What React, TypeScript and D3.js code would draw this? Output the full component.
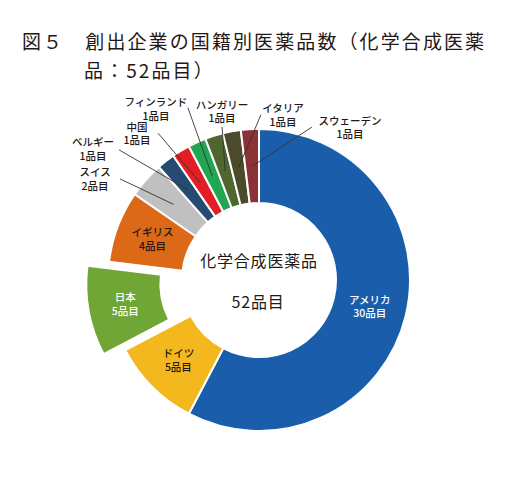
import * as d3 from "d3";
import { useRef, useEffect } from "react";

// 国名・品目数・色
const countries = ["アメリカ", "ドイツ", "日本", "イギリス", "スイス", "ベルギー", "中国", "フィンランド", "ハンガリー", "イタリア", "スウェーデン"];
const counts = [30, 5, 5, 4, 2, 1, 1, 1, 1, 1, 1];
const colors = ["#1a5eab", "#f3b81e", "#6fa636", "#dc6917", "#c0c0c0", "#264b73", "#e31e25", "#21a651", "#4f6630", "#4b4a2a", "#8b3236"];
const labelInk = ["#fff", "#231815", "#fff", "#231815", "#231815", "#231815", "#231815", "#231815", "#231815", "#231815", "#231815"];

const titleLines = ["図５　創出企業の国籍別医薬品数（化学合成医薬", "品：52品目）"];
const centerLines = ["化学合成医薬品", "52品目"];
const unit = "品目";

// 外側ラベルの配置（角度, 半径, 引出線の始点オフセット）
const outsideLayout: Record<string, { angle: number; radius: number; lead: [number, number] }> = {
  "スイス": { angle: 301.4, radius: 192, lead: [25, -1] },
  "ベルギー": { angle: 308.1, radius: 211, lead: [26, 0] },
  "中国": { angle: 320.1, radius: 190, lead: [21, -1] },
  "フィンランド": { angle: 328.8, radius: 199, lead: [32, -2] },
  "ハンガリー": { angle: 347.6, radius: 172, lead: [0, 15] },
  "イタリア": { angle: 8.3, radius: 166, lead: [-22, -1] },
  "スウェーデン": { angle: 30.9, radius: 177, lead: [-38, -1] },
};
const exploded = "日本";

type Slice = { name: string; value: number; color: string; ink: string };

export default function App() {
  const svgRef = useRef<SVGSVGElement | null>(null);

  useEffect(() => {
    if (!svgRef.current) return;
    const width = 516, height = 480;
    const cx = 259, cy = 280;
    const outer = 151, inner = 77, explodeBy = 22;
    const font = "'Noto Sans CJK JP', 'Noto Sans', sans-serif";

    const svg = d3.select(svgRef.current);
    svg.selectAll("*").remove();
    svg.attr("width", width).attr("height", height).attr("viewBox", `0 0 ${width} ${height}`);

    svg.append("rect").attr("width", width).attr("height", height).attr("fill", "#fff");

    // タイトル
    svg.append("text").attr("x", 22).attr("y", 49)
      .attr("font-family", font).attr("font-size", 19).attr("letter-spacing", 2.1)
      .attr("fill", "#231815").text(titleLines[0]);
    svg.append("text").attr("x", 84).attr("y", 78)
      .attr("font-family", font).attr("font-size", 19).attr("letter-spacing", 2.1)
      .attr("fill", "#231815").text(titleLines[1]);

    const data: Slice[] = countries.map((name, i) => ({ name, value: counts[i], color: colors[i], ink: labelInk[i] }));
    const pie = d3.pie<Slice>().value(d => d.value).sort(null).startAngle(0).endAngle(Math.PI * 2);
    const arcs = pie(data);
    const arc = d3.arc<d3.PieArcDatum<Slice>>().innerRadius(inner).outerRadius(outer);

    const g = svg.append("g").attr("transform", `translate(${cx},${cy})`);

    const shift = (d: d3.PieArcDatum<Slice>) => {
      if (d.data.name !== exploded) return [0, 0];
      const a = (d.startAngle + d.endAngle) / 2;
      return [Math.sin(a) * explodeBy, -Math.cos(a) * explodeBy];
    };

    g.selectAll("path.slice").data(arcs).join("path")
      .attr("class", "slice")
      .attr("d", arc)
      .attr("transform", d => `translate(${shift(d)[0]},${shift(d)[1]})`)
      .attr("fill", d => d.data.color)
      .attr("stroke", "#fff")
      .attr("stroke-width", 2)
      .attr("stroke-linejoin", "round");

    const polar = (angleDeg: number, r: number) => {
      const a = (angleDeg * Math.PI) / 180;
      return [Math.sin(a) * r, -Math.cos(a) * r];
    };

    // 2行ラベル（国名 / 品目数）
    const twoLine = (sel: d3.Selection<SVGGElement, d3.PieArcDatum<Slice>, SVGGElement, unknown>) => {
      sel.append("text").attr("y", -3.5).attr("text-anchor", "middle")
        .attr("font-family", font).attr("font-size", 10.5).attr("font-weight", 500)
        .attr("fill", d => d.data.ink).text(d => d.data.name);
      sel.append("text").attr("y", 10).attr("text-anchor", "middle")
        .attr("font-family", font).attr("font-size", 10.5).attr("font-weight", 500)
        .attr("fill", d => d.data.ink).text(d => `${d.data.value}${unit}`);
    };

    // 内側ラベル
    const insideArcs = arcs.filter(d => !outsideLayout[d.data.name]);
    g.selectAll("g.inside").data(insideArcs).join("g")
      .attr("class", "inside")
      .attr("transform", d => {
        const [x, y] = arc.centroid(d);
        const [sx, sy] = shift(d);
        return `translate(${x + sx},${y + sy})`;
      })
      .call(twoLine as any);

    // 外側ラベルと引出線
    const outsideArcs = arcs.filter(d => outsideLayout[d.data.name]);

    g.selectAll("line.leader").data(outsideArcs).join("line")
      .attr("class", "leader")
      .attr("x1", d => {
        const L = outsideLayout[d.data.name];
        return polar(L.angle, L.radius)[0] + L.lead[0];
      })
      .attr("y1", d => {
        const L = outsideLayout[d.data.name];
        return polar(L.angle, L.radius)[1] + L.lead[1];
      })
      .attr("x2", d => arc.centroid(d)[0])
      .attr("y2", d => arc.centroid(d)[1])
      .attr("stroke", "#333")
      .attr("stroke-width", 0.9);

    g.selectAll("g.outside").data(outsideArcs).join("g")
      .attr("class", "outside")
      .attr("transform", d => {
        const L = outsideLayout[d.data.name];
        const [x, y] = polar(L.angle, L.radius);
        return `translate(${x},${y})`;
      })
      .call(twoLine as any);

    // 中央テキスト
    g.append("text").attr("x", 0).attr("y", -13).attr("text-anchor", "middle")
      .attr("font-family", font).attr("font-size", 16).attr("letter-spacing", 0.8)
      .attr("fill", "#231815").text(centerLines[0]);
    g.append("text").attr("x", -1).attr("y", 28).attr("text-anchor", "middle")
      .attr("font-family", font).attr("font-size", 16).attr("letter-spacing", 0.8)
      .attr("fill", "#231815").text(centerLines[1]);
  }, []);

  return <svg ref={svgRef} style={{ position: "absolute", left: 0, top: 0, display: "block" }}></svg>;
}
